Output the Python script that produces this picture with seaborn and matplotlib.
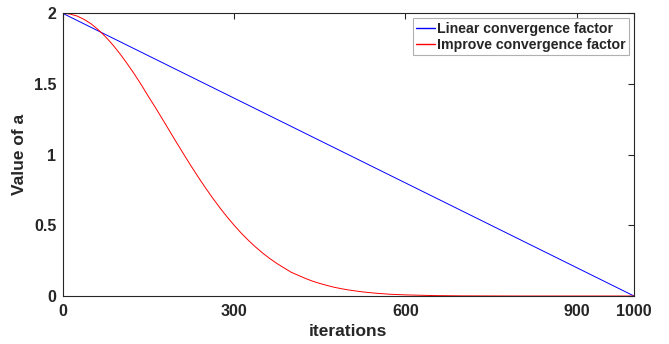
import numpy as np
import pandas as pd
import matplotlib
matplotlib.use("Agg")
import matplotlib.pyplot as plt
import seaborn as sns

# Data
linear_iter = [0, 1000]
linear_vals = [2.0, 0.0]

improve_iter = [0, 12.5, 25, 37.5, 50, 62.5, 75, 87.5, 100, 112.5, 125, 137.5,
                150, 162.5, 175, 187.5, 200, 212.5, 225, 237.5, 250, 262.5,
                275, 287.5, 300, 312.5, 325, 337.5, 350, 362.5, 375, 387.5,
                400, 412.5, 425, 437.5, 450, 462.5, 475, 487.5, 500, 525, 550,
                575, 600, 650, 700, 750, 800, 900, 1000]
improve_vals = [2.000, 1.995, 1.981, 1.957, 1.925, 1.883, 1.834, 1.778, 1.715,
                1.646, 1.573, 1.495, 1.412, 1.332, 1.249, 1.165, 1.081, 0.999,
                0.918, 0.840, 0.765, 0.693, 0.625, 0.561, 0.501, 0.445, 0.394,
                0.347, 0.304, 0.265, 0.230, 0.199, 0.168, 0.146, 0.124, 0.105,
                0.089, 0.075, 0.062, 0.052, 0.043, 0.029, 0.019, 0.012, 0.008,
                0.003, 0.001, 0.0005, 0.0, 0.0, 0.0]

series_names = ["Linear convergence factor", "Improve convergence factor"]
x_ticks = [0, 300, 600, 900, 1000]
y_ticks = [0, 0.5, 1, 1.5, 2]
y_tick_labels = ["0", "0.5", "1", "1.5", "2"]

df = pd.concat([
    pd.DataFrame({"iterations": linear_iter, "value": linear_vals, "series": series_names[0]}),
    pd.DataFrame({"iterations": improve_iter, "value": improve_vals, "series": series_names[1]}),
])

sns.set_theme(style="white")
plt.rcParams['font.family'] = ['Liberation Sans', 'DejaVu Sans']
plt.rcParams['font.weight'] = 'bold'

fig = plt.figure(figsize=(6.69, 3.44), dpi=100)
ax = fig.add_axes([0.0937, 0.1395, 0.9477 - 0.0937, 0.9613 - 0.1395])

sns.lineplot(data=df, x="iterations", y="value", hue="series",
             palette={series_names[0]: "#0000ff", series_names[1]: "#ff0000"},
             linewidth=0.7, ax=ax, sort=False, estimator=None)

ax.set_xlim(0, 1000)
ax.set_ylim(0, 2)
ax.set_xticks(x_ticks)
ax.set_xticklabels([str(t) for t in x_ticks], fontweight='bold', fontsize=11.5)
ax.set_yticks(y_ticks)
ax.set_yticklabels(y_tick_labels, fontweight='bold', fontsize=11.5)
ax.tick_params(direction='in', length=4, width=0.8, top=True, right=True,
               colors='#262626', labelcolor='#262626')
ax.tick_params(axis='x', pad=6)
ax.tick_params(axis='y', pad=4.5)
for s in ax.spines.values():
    s.set_linewidth(0.8)
    s.set_color('#262626')
    s.set_visible(True)

ax.set_xlabel("iterations", fontsize=12.5, fontweight='bold', color='#262626', labelpad=3)
ax.set_ylabel("Value of a", fontsize=12.5, fontweight='bold', color='#262626', labelpad=5)

leg = ax.legend(loc='upper right', frameon=True, fancybox=False,
                prop={'weight': 'bold', 'size': 10.2},
                handlelength=1.3, handletextpad=0.15, borderpad=0.25,
                labelspacing=0.15, borderaxespad=0.35)
leg.get_frame().set_edgecolor('#b0b0b0')
leg.get_frame().set_linewidth(0.8)
leg.get_frame().set_alpha(1)
for line in leg.get_lines():
    line.set_linewidth(1.0)

fig.savefig("out.png", dpi=100)
